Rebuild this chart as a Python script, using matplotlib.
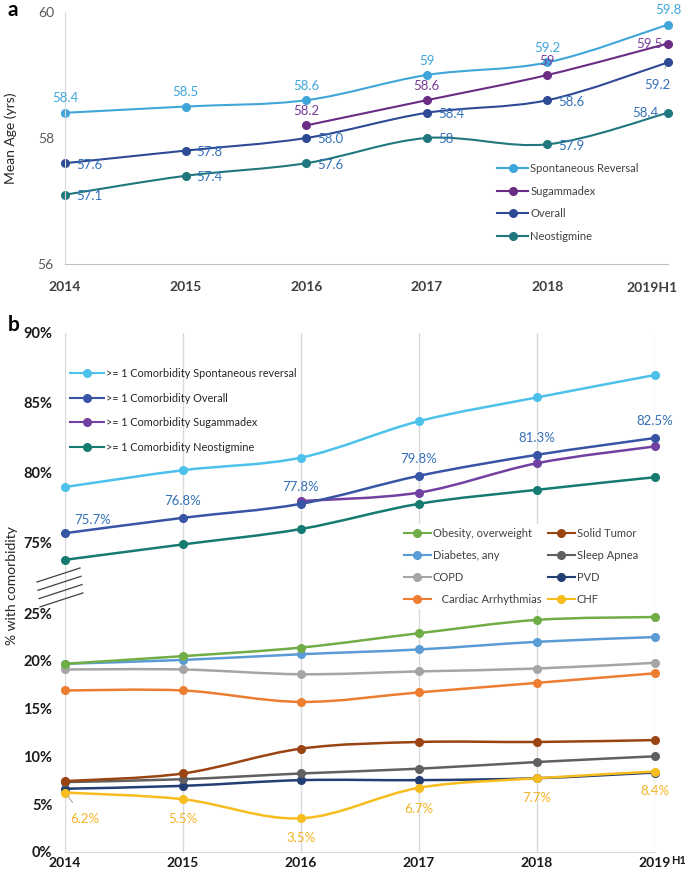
import numpy as np
import matplotlib
matplotlib.use('Agg')
import matplotlib.pyplot as plt
from matplotlib.path import Path
from matplotlib.patches import PathPatch
from matplotlib.lines import Line2D

plt.rcParams['font.family'] = ['Lato', 'DejaVu Sans']

# ---- panel a : mean age ----
years_a = ['2014', '2015', '2016', '2017', '2018', '2019H1']
age_spont = [58.4, 58.5, 58.6, 59.0, 59.2, 59.8]
age_sugam = [np.nan, np.nan, 58.2, 58.6, 59.0, 59.5]
age_overall = [57.6, 57.8, 58.0, 58.4, 58.6, 59.2]
age_neo = [57.1, 57.4, 57.6, 58.0, 57.9, 58.4]

# ---- panel b : % with comorbidity ----
years_b = ['2014', '2015', '2016', '2017', '2018', '2019']
any_spont = [79.0, 80.2, 81.1, 83.7, 85.4, 87.0]
any_overall = [75.7, 76.8, 77.8, 79.8, 81.3, 82.5]
any_sugam = [np.nan, np.nan, 78.0, 78.6, 80.7, 81.9]
any_neo = [73.8, 74.9, 76.0, 77.8, 78.8, 79.7]

obesity = [19.7, 20.5, 21.4, 22.9, 24.3, 24.6]
diabetes = [19.7, 20.1, 20.7, 21.2, 22.0, 22.5]
copd = [19.1, 19.1, 18.6, 18.9, 19.2, 19.8]
arrhythmia = [16.9, 16.9, 15.7, 16.7, 17.7, 18.7]
tumor = [7.4, 8.2, 10.8, 11.5, 11.5, 11.7]
apnea = [7.3, 7.6, 8.2, 8.7, 9.4, 10.0]
pvd = [6.6, 6.9, 7.5, 7.5, 7.7, 8.3]
chf = [6.2, 5.5, 3.5, 6.7, 7.7, 8.4]

W, H = 685, 875
fig = plt.figure(figsize=(W / 100, H / 100), dpi=100)


def box(x0, y0, x1, y1):
    # pixel box (top-left origin) -> figure fraction
    return [x0 / W, 1 - y1 / H, (x1 - x0) / W, (y1 - y0) / H]


def smooth(ax, y, color, lw=1.5, ms=5.5, z=2):
    # Excel-like smoothed line through the points (Catmull-Rom as bezier)
    pts = [(i, v) for i, v in enumerate(y) if not np.isnan(v)]
    verts, codes = [pts[0]], [Path.MOVETO]
    n = len(pts)
    for i in range(n - 1):
        p0, p1 = pts[max(i - 1, 0)], pts[i]
        p2, p3 = pts[i + 1], pts[min(i + 2, n - 1)]
        c1 = (p1[0] + (p2[0] - p0[0]) / 6, p1[1] + (p2[1] - p0[1]) / 6)
        c2 = (p2[0] - (p3[0] - p1[0]) / 6, p2[1] - (p3[1] - p1[1]) / 6)
        verts += [c1, c2, p2]
        codes += [Path.CURVE4] * 3
    ax.add_patch(PathPatch(Path(verts, codes), fill=False, edgecolor=color,
                           lw=lw, clip_on=False, zorder=z))
    ax.plot(range(len(y)), y, 'o', color=color, ms=ms, clip_on=False, zorder=z + 0.5)


def handle(color):
    return Line2D([], [], color=color, lw=1.5, marker='o', ms=5.5)


# ================= panel a =================
ca = {'spont': '#3FA6DA', 'sugam': '#6B2C86', 'overall': '#2E4A94', 'neo': '#20787E'}
lab_blue = '#3470B8'

ax = fig.add_axes(box(65, 12, 668, 264))
ax.set_xlim(0, 5)
ax.set_ylim(56, 60)
smooth(ax, age_neo, ca['neo'])
smooth(ax, age_overall, ca['overall'])
smooth(ax, age_sugam, ca['sugam'])
smooth(ax, age_spont, ca['spont'])

for s in ['top', 'right']:
    ax.spines[s].set_visible(False)
ax.spines['left'].set_color('#D9D9D9')
ax.spines['bottom'].set_color('#BFBFBF')
ax.set_yticks([56, 58, 60])
ax.tick_params(axis='y', length=0, pad=8, labelsize=10, labelcolor='#595959')
ax.set_xticks(range(6))
ax.set_xticklabels(years_a[:-1] + [''], fontweight='bold')
ax.tick_params(axis='x', length=0, pad=12, labelsize=10, labelcolor='#404040')
ax.annotate(years_a[-1], xy=(5, 0), xycoords=('data', 'axes fraction'),
            xytext=(7, -17), textcoords='offset points', ha='right', va='center',
            fontsize=10, fontweight='bold', color='#404040')
ax.set_ylabel('Mean Age (yrs)', fontsize=10, color='#262626', labelpad=15)

fs = 9.5
for i, v in enumerate(age_spont):
    ax.annotate(f'{v:g}', (i, v), xytext=(0, 6), textcoords='offset points',
                ha='center', va='bottom', fontsize=fs, color=ca['spont'])
for i, v in enumerate(age_sugam):
    if np.isnan(v):
        continue
    if i == 5:
        ax.annotate(f'{v:g}', (i, v), xytext=(-4, 0), textcoords='offset points',
                    ha='right', va='center', fontsize=fs, color='#7A3A98')
    else:
        ax.annotate(f'{v:g}', (i, v), xytext=(0, 6), textcoords='offset points',
                    ha='center', va='bottom', fontsize=fs, color='#7A3A98')
for i, v in enumerate(age_overall):
    if i == 5:
        ax.annotate(f'{v:.1f}', (i, v), xytext=(-8, -16), textcoords='offset points',
                    ha='center', va='center', fontsize=fs, color=lab_blue,
                    arrowprops=dict(arrowstyle='-', color='#A0A0A0', lw=0.7,
                                    shrinkA=6, shrinkB=3))
    else:
        ax.annotate(f'{v:.1f}', (i, v), xytext=(8, -1), textcoords='offset points',
                    ha='left', va='center', fontsize=fs, color=lab_blue)
for i, v in enumerate(age_neo):
    if i == 5:
        ax.annotate(f'{v:g}', (i, v), xytext=(-7, 0), textcoords='offset points',
                    ha='right', va='center', fontsize=fs, color=lab_blue)
    else:
        ax.annotate(f'{v:g}', (i, v), xytext=(8, -1), textcoords='offset points',
                    ha='left', va='center', fontsize=fs, color=lab_blue)

fig.legend([handle(ca['spont']), handle(ca['sugam']), handle(ca['overall']), handle(ca['neo'])],
           ['Spontaneous Reversal', 'Sugammadex', 'Overall', 'Neostigmine'],
           loc='upper left', bbox_to_anchor=(497 / W, 1 - 163 / H), frameon=False,
           fontsize=8, labelcolor='#404040', handlelength=2.8, handletextpad=0.2,
           labelspacing=1.05, borderpad=0, borderaxespad=0)

fig.text(8 / W, 1 - 10 / H, 'a', fontsize=15, fontweight='bold', va='center', ha='left')

# ================= panel b =================
cb = {'spont': '#4CC2EA', 'overall': '#3855A5', 'sugam': '#7140A0', 'neo': '#157A70'}
cl = {'obesity': '#70AD47', 'diabetes': '#5B9BD5', 'copd': '#A5A5A5', 'arr': '#ED7D31',
      'tumor': '#9A4414', 'apnea': '#606060', 'pvd': '#233E72', 'chf': '#F7BD1E'}

axu = fig.add_axes(box(65, 333, 655, 580))
axl = fig.add_axes(box(65, 580, 655, 851.7))
axu.set_ylim(75 - 37 / 14, 90)
axl.set_ylim(0, 271.7 / 9.54)
for a in (axu, axl):
    a.set_xlim(0, 5)
    a.set_xticks(range(6))
    a.grid(axis='x', color='#D9D9D9', lw=1)
    a.set_axisbelow(True)
    for s in a.spines.values():
        s.set_visible(False)
    a.tick_params(length=0, labelsize=10.5, labelcolor='#1A1A1A')
axl.spines['bottom'].set_visible(True)
axl.spines['bottom'].set_color('#D9D9D9')
axu.tick_params(axis='x', labelbottom=False)
axu.set_yticks([75, 80, 85, 90])
axu.set_yticklabels(['75%', '80%', '85%', '90%'], fontweight='bold')
axl.set_yticks([0, 5, 10, 15, 20, 25])
axl.set_yticklabels(['0%', '5%', '10%', '15%', '20%', '25%'], fontweight='bold')
axu.tick_params(axis='y', pad=9)
axl.tick_params(axis='y', pad=9)
axl.set_xticklabels(years_b, fontweight='bold')
axl.tick_params(axis='x', pad=4, labelsize=10)
axl.annotate('H1', xy=(5, 0), xycoords=('data', 'axes fraction'), xytext=(11.5, -6),
             textcoords='offset points', ha='left', va='center', fontsize=8,
             fontweight='bold', color='#1A1A1A', annotation_clip=False)

smooth(axu, any_neo, cb['neo'], lw=1.8)
smooth(axu, any_sugam, cb['sugam'], lw=1.8)
smooth(axu, any_overall, cb['overall'], lw=1.8)
smooth(axu, any_spont, cb['spont'], lw=1.8)

for i, v in enumerate(any_overall):
    if i == 0:
        axu.annotate(f'{v:.1f}%', (i, v), xytext=(6.5, 9.5), textcoords='offset points',
                     ha='left', va='center', fontsize=9.5, color=lab_blue)
    else:
        axu.annotate(f'{v:.1f}%', (i, v), xytext=(0, 12), textcoords='offset points',
                     ha='center', va='center', fontsize=9.5, color=lab_blue)

for key, vals in [('pvd', pvd), ('apnea', apnea), ('tumor', tumor), ('arr', arrhythmia),
                  ('copd', copd), ('diabetes', diabetes), ('obesity', obesity)]:
    smooth(axl, vals, cl[key], lw=1.8)
smooth(axl, chf, cl['chf'], lw=1.8)

for i, v in enumerate(chf):
    if i == 0:
        axl.annotate(f'{v:.1f}%', (i, v), xytext=(4, -19), textcoords='offset points',
                     ha='left', va='center', fontsize=9.5, color='#F5B427',
                     arrowprops=dict(arrowstyle='-', color='#A0A0A0', lw=0.7,
                                     shrinkA=7, shrinkB=3))
    else:
        dy = {1: -14.5, 2: -14, 3: -15, 4: -14.5, 5: -14}[i]
        axl.annotate(f'{v:.1f}%', (i, v), xytext=(0, dy), textcoords='offset points',
                     ha='center', va='center', fontsize=9.5, color='#F5B427')

fig.legend([handle(cb['spont']), handle(cb['overall']), handle(cb['sugam']), handle(cb['neo'])],
           ['>= 1 Comorbidity Spontaneous reversal', '>= 1 Comorbidity Overall',
            '>= 1 Comorbidity Sugammadex', '>= 1 Comorbidity Neostigmine'],
           loc='upper left', bbox_to_anchor=(70 / W, 1 - 368 / H), frameon=False,
           fontsize=7.8, labelcolor='#262626', handlelength=3.1, handletextpad=0.2,
           labelspacing=1.25, borderpad=0, borderaxespad=0)

fig.legend([handle(cl[k]) for k in ['obesity', 'diabetes', 'copd', 'arr',
                                     'tumor', 'apnea', 'pvd', 'chf']],
           ['Obesity, overweight', 'Diabetes, any', 'COPD', '   Cardiac Arrhythmias',
            'Solid Tumor', 'Sleep Apnea', 'PVD', 'CHF'],
           ncol=2, loc='upper left', bbox_to_anchor=(400 / W, 1 - 524 / H),
           frameon=True, facecolor='white', edgecolor='none', framealpha=1,
           fancybox=False, fontsize=8, labelcolor='#404040', handlelength=2.4,
           handletextpad=0.2, labelspacing=1.0, columnspacing=0.6,
           borderpad=0.35, borderaxespad=0)

fig.text(8 / W, 1 - 325 / H, 'b', fontsize=15, fontweight='bold', va='center', ha='left')
fig.text(12 / W, 1 - 586 / H, '% with comorbidity', rotation=90, fontsize=10,
         color='#262626', va='center', ha='center')

# break marks on the y axis
for k in range(4):
    y0 = 582 + 8.3 * k
    fig.add_artist(Line2D([(37 + k) / W, (80 + k) / W], [1 - y0 / H, 1 - (y0 - 14) / H],
                          color='#404040', lw=0.9))

fig.savefig('out.png', dpi=100)
